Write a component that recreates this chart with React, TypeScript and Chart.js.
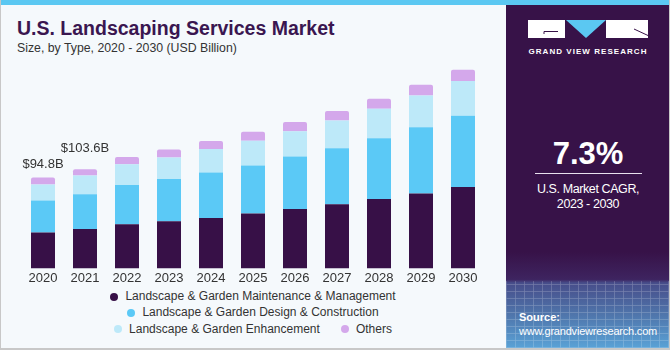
import React, { useEffect, useRef } from "react";
import { Chart, registerables } from "chart.js";

Chart.register(...registerables);

const years = ["2020", "2021", "2022", "2023", "2024", "2025", "2026", "2027", "2028", "2029", "2030"];
const maintenance = [37.5, 41.2, 46.0, 49.2, 52.7, 57.2, 62.0, 66.9, 72.4, 78.3, 84.9];
const design = [33.3, 36.3, 41.2, 44.1, 47.4, 50.2, 54.8, 58.6, 63.5, 69.0, 74.6];
const enhancement = [16.7, 19.4, 21.5, 22.5, 24.6, 26.0, 26.3, 28.8, 30.9, 33.3, 36.1];
const others = [7.3, 6.7, 7.6, 8.3, 8.3, 9.4, 9.8, 10.1, 10.4, 11.1, 11.8];
const totalLabels = ["$94.8B", "$103.6B"];
const labelLift = [7, 14];

const seriesNames = [
  "Landscape & Garden Maintenance & Management",
  "Landscape & Garden Design & Construction",
  "Landscape & Garden Enhancement",
  "Others",
];
const colors = ["#371047", "#5bc9f6", "#bde9f9", "#d4a8eb"];

const FONT = "'Liberation Sans', Arial, sans-serif";

const totalLabelPlugin = {
  id: "totalLabels",
  afterDatasetsDraw(chart: any) {
    const ctx = chart.ctx;
    const meta = chart.getDatasetMeta(chart.data.datasets.length - 1);
    ctx.save();
    ctx.font = `13px ${FONT}`;
    ctx.fillStyle = "#333333";
    ctx.textAlign = "center";
    ctx.textBaseline = "bottom";
    totalLabels.forEach((t, i) => {
      const el = meta.data[i];
      if (!el) return;
      ctx.fillText(t, el.x, el.y - labelLift[i]);
    });
    ctx.restore();
  },
};

function BarChart() {
  const ref = useRef<HTMLCanvasElement | null>(null);
  useEffect(() => {
    if (!ref.current) return;
    const data = [maintenance, design, enhancement, others];
    const chart = new Chart(ref.current, {
      type: "bar",
      data: {
        labels: years,
        datasets: data.map((d, i) => ({
          label: seriesNames[i],
          data: d,
          backgroundColor: colors[i],
          borderWidth: 0,
          borderRadius: i === 3 ? { topLeft: 2, topRight: 2, bottomLeft: 0, bottomRight: 0 } : 0,
          borderSkipped: false,
          barPercentage: 24 / 42,
          categoryPercentage: 1,
        })),
      },
      options: {
        responsive: false,
        animation: false,
        layout: { padding: { left: 22, right: 16, top: 0, bottom: 0 } },
        plugins: {
          legend: { display: false },
          tooltip: { enabled: false },
          title: { display: false },
        },
        scales: {
          x: {
            stacked: true,
            grid: { display: false, drawTicks: false },
            border: { display: false },
            ticks: { color: "#333333", font: { family: FONT, size: 13 }, padding: 2 },
          },
          y: {
            stacked: true,
            display: false,
            min: 0,
            max: 217.6,
          },
        },
      },
      plugins: [totalLabelPlugin],
    });
    return () => chart.destroy();
  }, []);
  return <canvas ref={ref} width={500} height={228} style={{ width: 500, height: 228, display: "block" }} />;
}

function LegendItem({ i }: { i: number }) {
  return (
    <span style={{ display: "inline-flex", alignItems: "center", marginRight: i === 2 ? 21 : 0 }}>
      <span
        style={{
          width: 8,
          height: 8,
          borderRadius: "50%",
          background: colors[i],
          display: "inline-block",
          marginRight: 7,
        }}
      />
      <span>{seriesNames[i]}</span>
    </span>
  );
}

export default function App() {
  const rows = [[0], [1], [2, 3]];
  return (
    <div
      style={{
        position: "fixed",
        left: 0,
        top: 0,
        width: 670,
        height: 350,
        boxSizing: "border-box",
        background: "#f5f9fc",
        borderLeft: "1px solid #c8c8c8",
        borderRight: "1px solid #c8c8c8",
        borderBottom: "2px solid #c8c8c8",
        overflow: "hidden",
        fontFamily: FONT,
      }}
    >
      <div style={{ position: "absolute", left: 0, top: 0, width: 670, height: 5, background: "#5bc8f2" }} />
      <div
        style={{
          position: "absolute",
          left: 16,
          top: 17,
          fontSize: 19.5,
          fontWeight: 700,
          color: "#3a1650",
          whiteSpace: "nowrap",
        }}
      >
        U.S. Landscaping Services Market
      </div>
      <div style={{ position: "absolute", left: 16, top: 41, fontSize: 12.3, color: "#333333", whiteSpace: "nowrap" }}>
        Size, by Type, 2020 - 2030 (USD Billion)
      </div>

      <div style={{ position: "absolute", left: -1, top: 60 }}>
        <BarChart />
      </div>

      <div
        style={{
          position: "absolute",
          left: 0,
          top: 289,
          width: 504,
          fontSize: 12,
          color: "#333333",
          lineHeight: "15.5px",
        }}
      >
        {rows.map((r, k) => (
          <div key={k} style={{ textAlign: "center", whiteSpace: "nowrap" }}>
            {r.map((i) => (
              <LegendItem key={i} i={i} />
            ))}
          </div>
        ))}
      </div>

      <div
        style={{
          position: "absolute",
          left: 505,
          top: 5,
          width: 164,
          height: 343,
          background:
            "linear-gradient(180deg, #371248 0%, #371248 72%, #3e2460 80%, #474d8a 81%, #4f74aa 90%, #5aa2d6 100%)",
          color: "#ffffff",
        }}
      >
        <div
          style={{
            position: "absolute",
            left: 0,
            top: 276,
            width: 164,
            height: 67,
            opacity: 0.25,
            backgroundImage:
              "repeating-linear-gradient(90deg, rgba(255,255,255,0.7) 0 1px, transparent 1px 9px), repeating-linear-gradient(0deg, rgba(255,255,255,0.7) 0 1px, transparent 1px 7px)",
          }}
        />
        <svg style={{ position: "absolute", left: 0, top: 0 }} width={164} height={60}>
          <rect x={22} y={15} width={37} height={18} fill="#ffffff" />
          <line x1={38} y1={26.5} x2={52} y2={26.5} stroke="#371248" strokeWidth={1} />
          <line x1={38} y1={26.5} x2={38} y2={29} stroke="#371248" strokeWidth={1} />
          <polygon points="60,15 100,15 80,33" fill="#5bc8f2" />
          <rect x={100} y={15} width={42} height={18} fill="#ffffff" />
          <line x1={128} y1={24} x2={142} y2={30.5} stroke="#371248" strokeWidth={1} />
        </svg>
        <div
          style={{
            position: "absolute",
            left: 0,
            width: 164,
            top: 42,
            textAlign: "center",
            fontSize: 8,
            fontWeight: 700,
            letterSpacing: 1.05,
            whiteSpace: "nowrap",
          }}
        >
          GRAND VIEW RESEARCH
        </div>
        <div
          style={{
            position: "absolute",
            left: 0,
            width: 164,
            top: 131,
            textAlign: "center",
            fontSize: 31,
            fontWeight: 700,
          }}
        >
          7.3%
        </div>
        <div style={{ position: "absolute", left: 29, top: 167.5, width: 107, height: 1.5, background: "#e8e0ee" }} />
        <div
          style={{
            position: "absolute",
            left: 0,
            width: 164,
            top: 177,
            textAlign: "center",
            fontSize: 12.5,
            letterSpacing: -0.4,
            lineHeight: "15px",
          }}
        >
          U.S. Market CAGR,
          <br />
          2023 - 2030
        </div>
        <div
          style={{
            position: "absolute",
            left: 13,
            top: 305,
            fontSize: 11,
            letterSpacing: -0.2,
            lineHeight: "14px",
            whiteSpace: "nowrap",
          }}
        >
          <div style={{ fontWeight: 700, letterSpacing: 0 }}>Source:</div>
          <div>www.grandviewresearch.com</div>
        </div>
      </div>
    </div>
  );
}
